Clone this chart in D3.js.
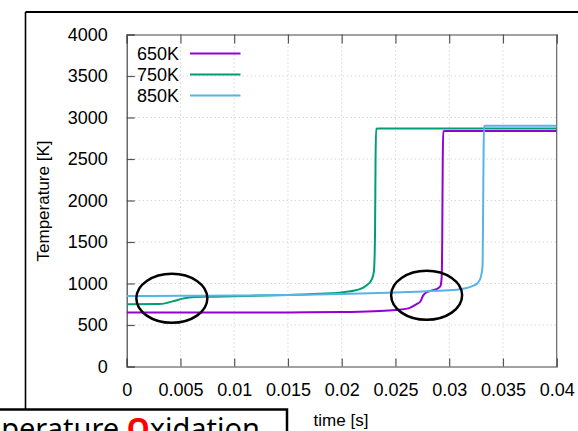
<!DOCTYPE html>
<html>
<head>
<meta charset="utf-8">
<script src="https://cdn.jsdelivr.net/npm/d3@7"></script>
<style>
  html, body { margin: 0; padding: 0; background: #fff; }
  svg { display: block; }
</style>
</head>
<body>
<svg id="chart" width="578" height="431"></svg>
<script>
// Temperature histories for three initial temperatures (time in s, temperature in K)
const series650Time = [0, 0.005, 0.01, 0.015, 0.02, 0.023, 0.025, 0.0262, 0.027, 0.0273, 0.0276, 0.0279, 0.0284, 0.029, 0.0292, 0.0293, 0.02935, 0.0294, 0.02945, 0.0297, 0.035, 0.04];
const series650Temp = [650, 650, 650, 652, 657, 667, 680, 700, 755, 780, 860, 895, 915, 945, 975, 1080, 1500, 2500, 2835, 2838, 2838, 2838];

const series750Time = [0, 0.003, 0.0038, 0.0045, 0.0052, 0.006, 0.0075, 0.01, 0.015, 0.0185, 0.02, 0.0214, 0.0223, 0.0228, 0.023, 0.0231, 0.02315, 0.0232, 0.0235, 0.04];
const series750Temp = [750, 752, 768, 793, 818, 834, 841, 846, 862, 880, 893, 921, 975, 1050, 1150, 1600, 2500, 2865, 2866, 2866];

const series850Time = [0, 0.005, 0.01, 0.015, 0.02, 0.025, 0.029, 0.031, 0.0316, 0.0322, 0.0326, 0.0329, 0.0331, 0.03315, 0.0332, 0.03325, 0.0335, 0.04];
const series850Temp = [850, 851, 855, 862, 872, 893, 912, 932, 945, 972, 1000, 1060, 1200, 1800, 2600, 2900, 2902, 2902];

const seriesNames = ["650K", "750K", "850K"];
const seriesColors = ["#9400D3", "#009E73", "#56B4E9"];

const xTicks = [0, 0.005, 0.01, 0.015, 0.02, 0.025, 0.03, 0.035, 0.04];
const yTicks = [0, 500, 1000, 1500, 2000, 2500, 3000, 3500, 4000];

// Highlighted regions: centre in data units
const highlightT = [0.0042, 0.0279];
const highlightK = [822, 858];

const seriesData = [
  series650Time.map((t, i) => [t, series650Temp[i]]),
  series750Time.map((t, i) => [t, series750Temp[i]]),
  series850Time.map((t, i) => [t, series850Temp[i]])
];

const svg = d3.select("#chart");
const plot = { left: 126.7, right: 556.7, top: 34.5, bottom: 366.5 };

const x = d3.scaleLinear().domain([0, 0.04]).range([plot.left, plot.right]);
const y = d3.scaleLinear().domain([0, 4000]).range([plot.bottom, plot.top]);

const tickFont = "'Liberation Sans', Arial, sans-serif";

// outer frame lines
svg.append("line").attr("x1", 25.5).attr("x2", 578).attr("y1", 12).attr("y2", 12)
  .attr("stroke", "#000").attr("stroke-width", 2);
svg.append("line").attr("x1", 25.5).attr("x2", 25.5).attr("y1", 12).attr("y2", 410)
  .attr("stroke", "#000").attr("stroke-width", 1.6);

// grid
const grid = svg.append("g").attr("stroke", "#c4c4c4").attr("stroke-width", 1)
  .attr("stroke-dasharray", "1,3");
xTicks.slice(1, -1).forEach(t => {
  grid.append("line").attr("x1", x(t)).attr("x2", x(t)).attr("y1", plot.top).attr("y2", plot.bottom);
});
yTicks.slice(1, -1).forEach(v => {
  grid.append("line").attr("x1", plot.left).attr("x2", plot.right).attr("y1", y(v)).attr("y2", y(v));
});

// axes with inward ticks
const xAxisB = d3.axisBottom(x).tickValues(xTicks).tickSize(-8).tickPadding(17)
  .tickFormat(d => d === 0 ? "0" : String(+d.toFixed(3)));
const xAxisT = d3.axisTop(x).tickValues(xTicks).tickSize(-9).tickFormat("");
const yAxisL = d3.axisLeft(y).tickValues(yTicks).tickSize(-8).tickPadding(19)
  .tickFormat(d3.format("d"));

function styleAxis(g) {
  g.select(".domain").attr("stroke", "#444").attr("stroke-width", 1.2);
  g.selectAll(".tick line").attr("stroke", "#555").attr("stroke-width", 1.2);
  g.selectAll(".tick text").attr("fill", "#000").attr("font-family", tickFont).attr("font-size", 18);
}
svg.append("g").attr("transform", `translate(0,${plot.bottom})`).call(xAxisB).call(styleAxis);
svg.append("g").attr("transform", `translate(0,${plot.top})`).call(xAxisT).call(styleAxis);
svg.append("g").attr("transform", `translate(${plot.left},0)`).call(yAxisL).call(styleAxis);
svg.append("line").attr("x1", plot.right).attr("x2", plot.right).attr("y1", plot.top).attr("y2", plot.bottom)
  .attr("stroke", "#666").attr("stroke-width", 1.2);

// curves
svg.append("clipPath").attr("id", "plotClip").append("rect")
  .attr("x", plot.left).attr("y", plot.top)
  .attr("width", plot.right - plot.left).attr("height", plot.bottom - plot.top);
const line = d3.line().x(d => x(d[0])).y(d => y(d[1])).curve(d3.curveMonotoneX);
const curves = svg.append("g").attr("clip-path", "url(#plotClip)");
seriesData.forEach((s, i) => {
  curves.append("path").datum(s).attr("d", line)
    .attr("fill", "none").attr("stroke", seriesColors[i]).attr("stroke-width", 2)
    .attr("stroke-linejoin", "round");
});

// legend
const legend = svg.append("g");
seriesNames.forEach((name, i) => {
  const ly = 53.5 + i * 21;
  legend.append("text").attr("x", 179).attr("y", ly).attr("dy", "0.36em")
    .attr("text-anchor", "end").attr("font-family", tickFont).attr("font-size", 18)
    .text(name);
  legend.append("line").attr("x1", 190).attr("x2", 240.5).attr("y1", ly).attr("y2", ly)
    .attr("stroke", seriesColors[i]).attr("stroke-width", 2);
});

// axis titles
svg.append("text").attr("transform", "translate(49,201) rotate(-90)")
  .attr("text-anchor", "middle").attr("font-family", tickFont).attr("font-size", 17)
  .text("Temperature [K]");
svg.append("text").attr("x", 341).attr("y", 426)
  .attr("text-anchor", "middle").attr("font-family", tickFont).attr("font-size", 17)
  .text("time [s]");

// highlight ellipses
highlightT.forEach((t, i) => {
  svg.append("ellipse").attr("cx", x(t)).attr("cy", y(highlightK[i]))
    .attr("rx", 35.5).attr("ry", 24.5)
    .attr("fill", "none").attr("stroke", "#000").attr("stroke-width", 2.5);
});

// caption box
svg.append("rect").attr("x", -10).attr("y", 409.5).attr("width", 297).attr("height", 40)
  .attr("fill", "#fff").attr("stroke", "#000").attr("stroke-width", 2.5);
const caption = svg.append("text").attr("x", 260).attr("y", 439)
  .attr("text-anchor", "end").attr("font-family", "'Noto Sans', sans-serif").attr("font-size", 29);
caption.append("tspan").attr("fill", "#000").text("Low-Temperature ");
caption.append("tspan").attr("fill", "#f00").attr("font-weight", "bold").text("O");
caption.append("tspan").attr("fill", "#000").text("xidation");
</script>
</body>
</html>
